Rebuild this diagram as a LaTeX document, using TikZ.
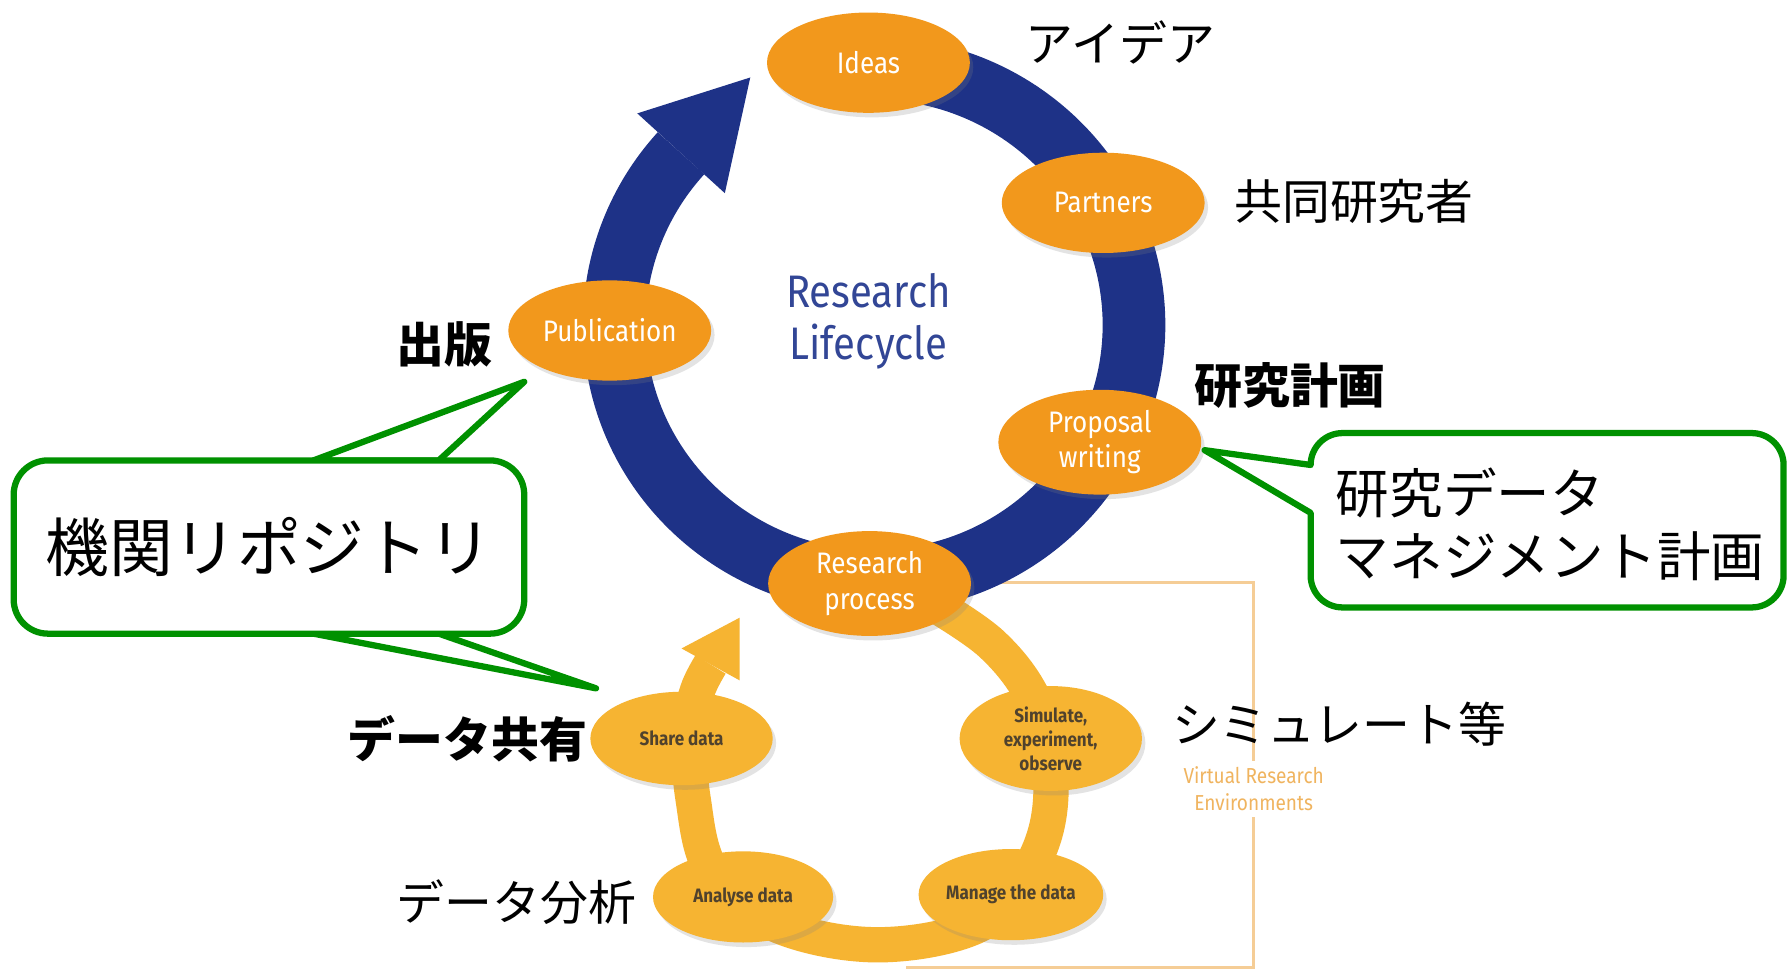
\documentclass[tikz,border=0pt]{standalone}
\usepackage{fontspec}
\setmainfont{Noto Sans CJK JP}
\newfontfamily\en[FakeStretch=0.88]{Fira Sans}
\usetikzlibrary{shapes.geometric,shadows}
\definecolor{ringblue}{RGB}{30,50,135}
\definecolor{orA}{RGB}{242,152,28}
\definecolor{orB}{RGB}{246,180,50}
\definecolor{lifeblue}{RGB}{50,70,150}
\definecolor{vrecol}{RGB}{240,180,95}
\definecolor{vreline}{RGB}{245,205,150}
\definecolor{cgreen}{RGB}{0,145,0}
\definecolor{lowtext}{RGB}{80,66,45}
\begin{document}
\begin{tikzpicture}[x=1pt,y=1pt,
  stageA/.style={ellipse, fill=orA, minimum width=178pt, minimum height=88pt, inner sep=0pt,
    text=white, align=center, font=\en\fontsize{26}{31}\selectfont,
    drop shadow={opacity=0.22, shadow xshift=3pt, shadow yshift=-4pt}},
  stageB/.style={ellipse, fill=orB, minimum width=160pt, minimum height=82pt, inner sep=0pt,
    text=lowtext, align=center, font=\en\bfseries\fontsize{17}{21}\selectfont,
    drop shadow={opacity=0.22, shadow xshift=3pt, shadow yshift=-4pt}},
  jlabel/.style={font=\fontsize{42}{50}\selectfont, inner sep=0pt},
  jbold/.style={font=\bfseries\fontsize{42}{50}\selectfont, inner sep=0pt},
  callout/.style={draw=cgreen, line width=5.5pt, fill=white, line join=round},
]
\useasboundingbox (0,0) rectangle (1568,851);
\fill[white] (0,0) rectangle (1568,851);

% VRE frame
\draw[vreline, line width=2.5pt] (800,340) -- (1100,340) -- (1100,183);
\draw[vreline, line width=2.5pt] (1100,134) -- (1100,2) -- (795,2);

% blue ring
\draw[ringblue, line width=55pt] (767,566) ++(95:228 and 225)
  arc[start angle=95, end angle=-222, x radius=228, y radius=225];
\fill[ringblue] (559.2,751.5) -- (658.3,783.0) -- (636.0,681.5) -- cycle;

% lower loop
\draw[orB, line width=31pt] plot[smooth, tension=0.6] coordinates
  {(795,335) (870,286) (912,226) (922,151) (905,91) (860,40) (770,22) (680,40) (625,86) (608,151) (605,211) (612,245) (623.5,268)};
\fill[orB] (598,282) -- (649,309) -- (649,254) -- cycle;

% top stages
\node[stageA] (ideas) at (762,796) {Ideas};
\node[stageA] (partners) at (968,673) {Partners};
\node[stageA, minimum height=92pt] (proposal) at (965,463) {Proposal\\writing};
\node[stageA, minimum height=92pt] (process) at (763,339) {Research\\process};
\node[stageA] (pub) at (535,561) {Publication};

% lower stages
\node[stageB] (share) at (598,203) {Share data};
\node[stageB, minimum height=92pt] (sim) at (922,203) {Simulate,\\experiment,\\observe};
\node[stageB, minimum width=162pt, minimum height=80pt] (manage) at (887,66) {Manage the data};
\node[stageB, minimum width=158pt, minimum height=80pt] (analyse) at (652,64) {Analyse data};

\node[font=\en\fontsize{40}{46}\selectfont, text=lifeblue, align=center] (life) at (762,569) {Research\\Lifecycle};
\node[font=\en\fontsize{19}{24}\selectfont, text=vrecol, align=center] (vre) at (1100,159) {Virtual Research\\Environments};

% Japanese labels
\node[jlabel] (l-idea) at (983,814) {アイデア};
\node[jlabel] (l-partner) at (1188,674) {共同研究者};
\node[jbold] (l-plan) at (1132,513) {研究計画};
\node[jbold] (l-pub) at (390,549) {出版};
\node[jbold] (l-share) at (410,203) {データ共有};
\node[jlabel] (l-sim) at (1175,216) {シミュレート等};
\node[jlabel] (l-ana) at (453,59) {データ分析};

% left callout
\coordinate (tipA) at (460,516);
\coordinate (tipB) at (523,247);
\filldraw[callout] (275,447) -- (tipA) -- (385,447) -- cycle;
\filldraw[callout] (275,295) -- (tipB) -- (385,295) -- cycle;
\node[callout, rounded corners=30pt, minimum width=448pt, minimum height=152pt, inner sep=0pt,
  font=\fontsize{56}{60}\selectfont] (repo) at (236,371) {機関リポジトリ};

% right callout
\coordinate (tipC) at (1057,456);
\filldraw[callout] (tipC) -- (1150,443) arc[start angle=180, end angle=90, radius=28]
  -- (1537,471) arc[start angle=90, end angle=0, radius=28]
  -- (1565,346) arc[start angle=0, end angle=-90, radius=28]
  -- (1178,318) arc[start angle=270, end angle=180, radius=28]
  -- (1150,401) -- cycle;
\node[anchor=west, align=left, inner sep=0pt, font=\fontsize{47}{56}\selectfont] (dmp) at (1172,391)
  {研究データ\\マネジメント計画};
\end{tikzpicture}
\end{document}
